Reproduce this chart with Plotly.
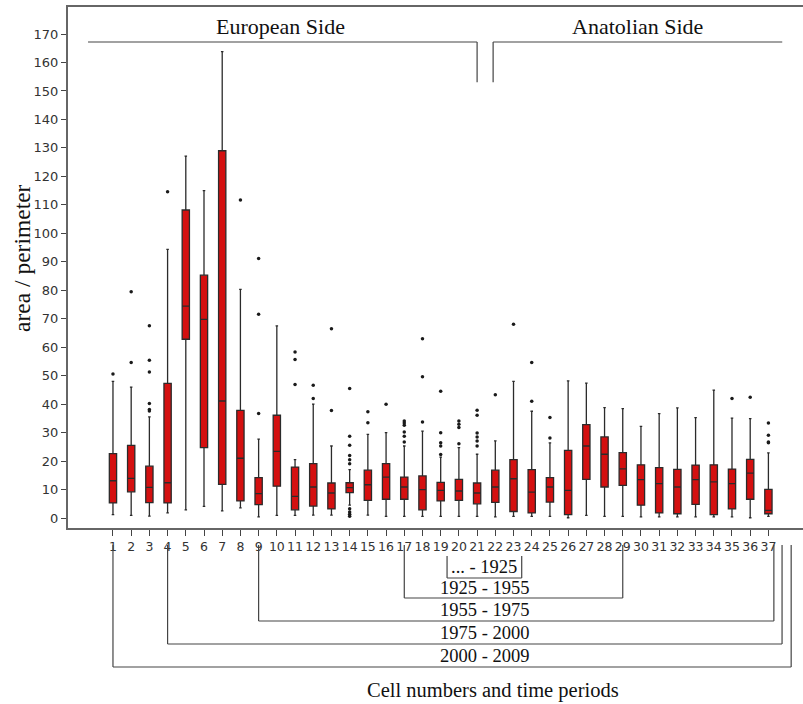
import plotly.graph_objects as go

# Cell numbers 1..37 (European side: 1-21, Anatolian side: 22-37)
cells = list(range(1, 38))

lower = [1.2, 0.9, 0.7, 1.8, 2.9, 4.1, 2.5, 3.6, 0.4, 0.9,
         0.9, 1.0, 1.0, 4.5, 1.0, 0.6, 0.6, 0.6, 0.6, 0.6,
         0.6, 0.4, 0.6, 0.6, 0.6, 0.1, 0.9, 0.6, 0.6, 0.4,
         0.4, 0.4, 0.4, 0.4, 0.4, 0.1, 0.6]
q1 = [5.3, 9.2, 5.4, 5.3, 62.8, 24.7, 11.8, 6.0, 4.7, 11.2,
      2.9, 4.2, 3.2, 8.9, 6.2, 6.6, 6.6, 2.9, 6.0, 6.2,
      5.0, 5.5, 2.3, 1.8, 5.6, 1.2, 13.6, 10.9, 11.5, 4.5,
      1.8, 1.5, 4.8, 1.2, 3.2, 6.6, 1.5]
median = [13.1, 13.9, 10.8, 12.4, 74.4, 69.8, 41.1, 21.0, 8.6, 23.4,
          7.6, 10.9, 8.8, 10.7, 11.7, 14.4, 10.9, 10.0, 9.7, 9.5,
          8.8, 10.9, 13.8, 9.1, 10.9, 9.7, 25.3, 22.4, 17.3, 13.5,
          12.1, 10.9, 13.5, 12.7, 12.1, 15.8, 2.7]
q3 = [22.6, 25.5, 18.2, 47.3, 108.2, 85.3, 129.0, 37.8, 14.2, 36.1,
      17.9, 19.1, 12.3, 12.4, 16.8, 19.1, 14.4, 14.8, 12.5, 13.6,
      12.3, 16.8, 20.5, 17.0, 14.2, 23.8, 32.8, 28.5, 23.0, 18.7,
      17.7, 17.1, 18.6, 18.7, 17.2, 20.6, 10.1]
upper = [48.0, 46.0, 35.5, 94.4, 127.1, 115.0, 163.8, 80.3, 27.7, 67.5,
         20.5, 40.0, 25.3, 17.0, 29.4, 30.0, 25.3, 30.5, 21.4, 24.7,
         22.4, 27.1, 48.0, 37.5, 26.4, 48.2, 47.4, 38.8, 38.4, 32.2,
         36.7, 38.7, 35.3, 44.9, 35.1, 34.9, 22.9]

# Outlying observations per cell
outliers = {
    1: [50.6],
    2: [54.6, 79.5],
    3: [37.6, 38.1, 40.2, 51.3, 55.4, 67.5],
    4: [114.6],
    8: [111.7],
    9: [36.7, 71.6, 91.2],
    11: [46.9, 55.7, 58.3],
    12: [42.0, 46.6],
    13: [37.8, 66.5],
    14: [0.6, 1.3, 2.1, 3.3, 19.1, 20.5, 22.0, 25.6, 28.7, 45.5],
    15: [33.5, 37.3],
    16: [40.0],
    17: [26.7, 28.7, 30.2, 32.6, 33.4, 34.1],
    18: [33.7, 49.6, 63.0],
    19: [22.3, 25.3, 26.4, 30.0, 44.5],
    20: [26.1, 31.8, 32.9, 34.1],
    21: [25.3, 27.1, 28.5, 29.9, 36.1, 37.9],
    22: [43.3],
    23: [68.1],
    24: [41.0, 54.6],
    25: [28.1, 35.3],
    35: [42.0],
    36: [42.4],
    37: [26.4, 26.7, 29.1, 33.4],
}

y_ticks = list(range(0, 171, 10))

side_labels = ["European Side", "Anatolian Side"]
period_labels = ["... - 1925", "1925 - 1955", "1955 - 1975", "1975 - 2000", "2000 - 2009"]

serif = "Liberation Serif, Times New Roman, serif"
sans = "DejaVu Sans, Verdana, sans-serif"

fig = go.Figure()

fig.add_trace(go.Box(
    x=cells, q1=q1, median=median, q3=q3,
    lowerfence=lower, upperfence=upper,
    width=0.4, whiskerwidth=0.35,
    fillcolor="#d41010",
    line=dict(color="#2b2b2b", width=1.3),
    boxpoints=False, showlegend=False, hoverinfo="skip",
))

ox, oy = [], []
for c, vals in outliers.items():
    for v in vals:
        ox.append(c)
        oy.append(v)
fig.add_trace(go.Scatter(
    x=ox, y=oy, mode="markers",
    marker=dict(color="#1a1a1a", size=3.5),
    showlegend=False, hoverinfo="skip",
))

line_style = dict(color="#444444", width=1.2)
shapes = []

# Side brackets at the top of the plot
shapes.append(dict(type="line", xref="x", yref="y", x0=-0.37, x1=21.0, y0=167.2, y1=167.2, line=line_style))
shapes.append(dict(type="line", xref="x", yref="y", x0=21.0, x1=21.0, y0=167.2, y1=153.1, line=line_style))
shapes.append(dict(type="line", xref="x", yref="y", x0=21.88, x1=37.76, y0=167.2, y1=167.2, line=line_style))
shapes.append(dict(type="line", xref="x", yref="y", x0=21.88, x1=21.88, y0=167.2, y1=153.1, line=line_style))


def py(px):
    # pixel row below the plot area -> paper coordinate
    return (528 - px) / 521


# Period brackets under the axis: (left cell, right cell, bottom row)
brackets = [
    (17, 29, 598),
    (9, 37.3, 621),
    (4, 37.75, 644),
    (1, 38.25, 667),
]
for x0, x1, yb in brackets:
    shapes.append(dict(type="line", xref="x", yref="paper", x0=x0, x1=x0, y0=py(545), y1=py(yb), line=line_style))
    shapes.append(dict(type="line", xref="x", yref="paper", x0=x0, x1=x1, y0=py(yb), y1=py(yb), line=line_style))
    shapes.append(dict(type="line", xref="x", yref="paper", x0=x1, x1=x1, y0=py(yb), y1=py(545), line=line_style))

# Small frame around the earliest period
label_x = 21.4
shapes.append(dict(type="line", xref="x", yref="paper", x0=label_x - 2.05, x1=label_x - 2.05, y0=py(556), y1=py(578), line=line_style))
shapes.append(dict(type="line", xref="x", yref="paper", x0=label_x - 2.05, x1=label_x + 2.05, y0=py(578), y1=py(578), line=line_style))
shapes.append(dict(type="line", xref="x", yref="paper", x0=label_x + 2.05, x1=label_x + 2.05, y0=py(578), y1=py(556), line=line_style))

annotations = [
    dict(text=side_labels[0], x=10.2, y=172.8, xref="x", yref="y", showarrow=False,
         yanchor="middle", font=dict(family=serif, size=22, color="#111")),
    dict(text=side_labels[1], x=29.8, y=172.8, xref="x", yref="y", showarrow=False,
         yanchor="middle", font=dict(family=serif, size=22, color="#111")),
    dict(text="area / perimeter", x=(22 - 68) / 735, y=py(258), xref="paper", yref="paper",
         textangle=-90, showarrow=False, xanchor="center", yanchor="middle",
         font=dict(family=serif, size=23.5, color="#111")),
]
period_rows = [567, 588, 610, 633, 656]
for lab, row in zip(period_labels, period_rows):
    annotations.append(dict(text=lab, x=label_x, y=py(row), xref="x", yref="paper", showarrow=False,
                            yanchor="middle", font=dict(family=serif, size=18.5, color="#111")))
annotations.append(dict(text="Cell numbers and time periods", x=21.9, y=py(690), xref="x", yref="paper",
                        showarrow=False, yanchor="middle", font=dict(family=serif, size=20.5, color="#111")))

fig.update_layout(
    width=803, height=704,
    margin=dict(l=68, r=0, t=7, b=176),
    paper_bgcolor="white", plot_bgcolor="white",
    shapes=shapes, annotations=annotations,
    xaxis=dict(
        range=[-1.47, 38.9], tickmode="array", tickvals=cells, ticktext=[str(c) for c in cells],
        ticks="outside", ticklen=6, tickcolor="#444", tickwidth=1, tickangle=0,
        showline=True, linecolor="#666", linewidth=2, mirror=True,
        showgrid=False, zeroline=False,
        tickfont=dict(family=sans, size=12.5, color="#333"),
    ),
    yaxis=dict(
        range=[-3.5, 179.5], tickmode="array", tickvals=y_ticks,
        ticks="outside", ticklen=5, tickcolor="#444", tickwidth=1,
        showline=True, linecolor="#666", linewidth=2,
        showgrid=False, zeroline=False,
        tickfont=dict(family=sans, size=13, color="#333"),
    ),
)

fig.write_html("out.html")
